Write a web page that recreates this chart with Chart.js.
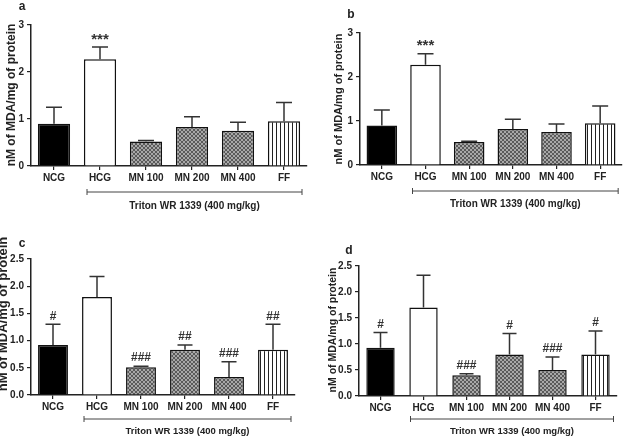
<!DOCTYPE html>
<html>
<head>
<meta charset="utf-8">
<script src="https://cdn.jsdelivr.net/npm/chart.js@4.4.1/dist/chart.umd.min.js"></script>
<style>
	html, body { margin: 0; padding: 0; background: #fff; }
	#wrap { position: relative; width: 623px; height: 436px; overflow: hidden; }
	.panel { position: absolute; }
</style>
</head>
<body>
<div id="wrap">
	<div class="panel" style="left:0;top:0;width:311px;height:216px"><canvas id="chartA"></canvas></div>
	<div class="panel" style="left:311px;top:0;width:312px;height:216px"><canvas id="chartB"></canvas></div>
	<div class="panel" style="left:0;top:216px;width:311px;height:220px"><canvas id="chartC"></canvas></div>
	<div class="panel" style="left:311px;top:216px;width:312px;height:220px"><canvas id="chartD"></canvas></div>
</div>
<script>
const groups = ['NCG', 'HCG', 'MN 100', 'MN 200', 'MN 400', 'FF'];
const yTicksAB = [0, 1, 2, 3];
const yTicksCD = [0, 0.5, 1, 1.5, 2, 2.5];

const meanA = [0.9, 2.27, 0.52, 0.83, 0.75, 0.95];
const sdA = [0.35, 0.26, 0.02, 0.22, 0.18, 0.4];
const marksA = ['', '***', '', '', '', ''];

const meanB = [0.9, 2.28, 0.52, 0.82, 0.75, 0.95];
const sdB = [0.35, 0.25, 0.02, 0.22, 0.18, 0.39];
const marksB = ['', '***', '', '', '', ''];

const meanC = [0.92, 1.8, 0.51, 0.83, 0.33, 0.83];
const sdC = [0.38, 0.38, 0.02, 0.09, 0.28, 0.47];
const marksC = ['#', '', '###', '##', '###', '##'];

const meanD = [0.93, 1.7, 0.4, 0.8, 0.5, 0.8];
const sdD = [0.29, 0.62, 0.03, 0.4, 0.25, 0.45];
const marksD = ['#', '', '###', '#', '###', '#'];

const yTitle = 'nM of MDA/mg of protein';
const bracketText = 'Triton WR 1339 (400 mg/kg)';
const FONT = '"Liberation Sans", Arial, sans-serif';

function makeDotPattern() {
	const c = document.createElement('canvas');
	c.width = 4; c.height = 4;
	const g = c.getContext('2d');
	g.fillStyle = '#a8a8a8';
	g.fillRect(0, 0, 4, 4);
	g.fillStyle = '#5a5a5a';
	for (let i = 0; i < 4; i++) {
		g.fillRect(i, i, 1, 1);
		g.fillRect(3 - i, i, 1, 1);
	}
	return g.createPattern(c, 'repeat');
}

function makeStripePattern() {
	const c = document.createElement('canvas');
	c.width = 4; c.height = 4;
	const g = c.getContext('2d');
	g.fillStyle = '#fff';
	g.fillRect(0, 0, 4, 4);
	g.fillStyle = '#222';
	g.fillRect(0, 0, 1, 4);
	return g.createPattern(c, 'repeat');
}

// error bars (upward only) plus significance marks
const errorBarPlugin = {
	id: 'errorBars',
	afterDatasetsDraw(chart, args, o) {
		const meta = chart.getDatasetMeta(0);
		const y = chart.scales.y;
		const values = chart.data.datasets[0].data;
		const ctx = chart.ctx;
		ctx.save();
		ctx.strokeStyle = '#333';
		ctx.lineWidth = 1.5;
		meta.data.forEach((bar, i) => {
			const top = y.getPixelForValue(values[i] + o.sd[i]);
			ctx.beginPath();
			ctx.moveTo(bar.x, bar.y);
			ctx.lineTo(bar.x, top);
			ctx.moveTo(bar.x - o.cap, top);
			ctx.lineTo(bar.x + o.cap, top);
			ctx.stroke();
			const mark = o.marks[i];
			if (mark) {
				ctx.fillStyle = '#333';
				ctx.font = mark.includes('*') ? `bold 15px ${FONT}` : `bold 12px ${FONT}`;
				ctx.textAlign = 'center';
				ctx.textBaseline = 'bottom';
				ctx.fillText(mark, bar.x, top - (mark.includes('*') ? 0 : 2));
			}
		});
		ctx.restore();
	},
};

// panel letter, rotated y title, treatment bracket
const decorPlugin = {
	id: 'decor',
	afterDraw(chart, args, o) {
		const ctx = chart.ctx;
		const x = chart.scales.x;
		const area = chart.chartArea;
		ctx.save();
		ctx.fillStyle = '#222';
		ctx.font = `bold 12px ${FONT}`;
		ctx.textAlign = 'center';
		ctx.textBaseline = 'middle';
		ctx.fillText(o.letter, o.letterX, o.letterY);

		ctx.save();
		ctx.translate(o.titleX, o.titleY);
		ctx.rotate(-Math.PI / 2);
		ctx.font = `bold ${o.titleSize}px ${FONT}`;
		ctx.fillText(yTitle, 0, 0);
		ctx.restore();

		const x0 = x.getPixelForValue(1) - 13;
		const x1 = x.getPixelForValue(5) + 18;
		const by = area.bottom + o.bracketDy;
		ctx.strokeStyle = '#444';
		ctx.lineWidth = 1;
		ctx.beginPath();
		ctx.moveTo(x0, by); ctx.lineTo(x1, by);
		ctx.moveTo(x0, by - 3); ctx.lineTo(x0, by + 3);
		ctx.moveTo(x1, by - 3); ctx.lineTo(x1, by + 3);
		ctx.stroke();
		ctx.font = `bold ${o.textSize}px ${FONT}`;
		ctx.fillText(bracketText, (x0 + x1) / 2, by + o.textDy);
		ctx.restore();
	},
};

function buildPanel(id, values, sd, marks, yTicks, decimals, lay) {
	const dots = makeDotPattern();
	const stripes = makeStripePattern();
	new Chart(document.getElementById(id), {
		type: 'bar',
		data: {
			labels: groups,
			datasets: [{
				data: values,
				backgroundColor: ['#000', '#fff', dots, dots, dots, stripes],
				borderColor: '#111',
				borderWidth: 1.5,
				categoryPercentage: 1,
				barPercentage: lay.barPct,
			}],
		},
		options: {
			responsive: true,
			maintainAspectRatio: false,
			animation: false,
			layout: { padding: { left: 0, top: lay.top, right: lay.right, bottom: 0 } },
			scales: {
				x: {
					grid: { display: true, drawOnChartArea: false, offset: false, tickLength: 4, color: '#222', lineWidth: 1.2 },
					border: { display: true, color: '#222', width: 1.5 },
					ticks: { color: '#222', font: { family: FONT, size: 10, weight: 'bold' }, padding: 2, maxRotation: 0, autoSkip: false },
					afterFit(scale) { scale.height = lay.xHeight; },
				},
				y: {
					min: yTicks[0],
					max: yTicks[yTicks.length - 1],
					afterBuildTicks(scale) { scale.ticks = yTicks.map((v) => ({ value: v })); },
					grid: { display: true, drawOnChartArea: false, tickLength: 4, color: '#222', lineWidth: 1.2 },
					border: { display: true, color: '#222', width: 1.5 },
					ticks: {
						color: '#222',
						font: { family: FONT, size: 10, weight: 'bold' },
						padding: 3,
						callback(value) { return Number(value).toFixed(decimals); },
					},
					afterFit(scale) { scale.width = lay.yWidth; },
				},
			},
			plugins: {
				legend: { display: false },
				tooltip: { enabled: false },
				errorBars: { sd, marks, cap: lay.cap },
				decor: lay.decor,
			},
		},
		plugins: [errorBarPlugin, decorPlugin],
	});
}

buildPanel('chartA', meanA, sdA, marksA, yTicksAB, 0, {
	top: 25, right: 4, yWidth: 31, xHeight: 50, barPct: 0.7, cap: 8,
	decor: { letter: 'a', letterX: 22, letterY: 7, titleX: 12, titleY: 95, titleSize: 12, bracketDy: 26, textDy: 14, textSize: 10 },
});
buildPanel('chartB', meanB, sdB, marksB, yTicksAB, 0, {
	top: 33, right: 1, yWidth: 49, xHeight: 51, barPct: 0.7, cap: 8,
	decor: { letter: 'b', letterX: 40, letterY: 15, titleX: 28, titleY: 99, titleSize: 11, bracketDy: 26, textDy: 13, textSize: 10 },
});
buildPanel('chartC', meanC, sdC, marksC, yTicksCD, 1, {
	top: 43, right: 16, yWidth: 31, xHeight: 41, barPct: 0.68, cap: 7.5,
	decor: { letter: 'c', letterX: 22, letterY: 28, titleX: 3, titleY: 98, titleSize: 13, bracketDy: 24, textDy: 12, textSize: 9.5 },
});
buildPanel('chartD', meanD, sdD, marksD, yTicksCD, 1, {
	top: 50, right: 6, yWidth: 48, xHeight: 40, barPct: 0.66, cap: 7,
	decor: { letter: 'd', letterX: 38, letterY: 35, titleX: 22, titleY: 114, titleSize: 10.5, bracketDy: 23, textDy: 12, textSize: 9.5 },
});
</script>
</body>
</html>
